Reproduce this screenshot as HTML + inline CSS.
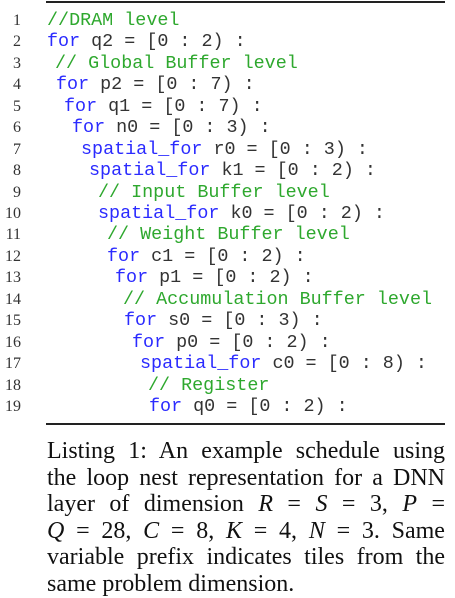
<!DOCTYPE html>
<html><head><meta charset="utf-8"><style>
html,body{margin:0;padding:0;background:#fff;width:455px;height:598px;overflow:hidden;position:relative}
.r{position:absolute;left:46px;width:399px;height:2px;background:#222}
.ln{position:absolute;left:0;width:21px;text-align:right;font-family:"Liberation Serif",serif;font-size:16px;color:#333;line-height:20px}
.c{position:absolute;font-family:"Liberation Mono",monospace;font-size:18.4px;color:#333;line-height:20px;white-space:pre}
.k{color:#2b2bff}.g{color:#2ea82e}
.cap{position:absolute;left:47px;top:438px;width:398px;font-family:"Liberation Serif",serif;font-size:24px;line-height:26.6px;color:#111}
.cap div{text-align:justify;text-align-last:justify;white-space:nowrap}
.cap div.last{text-align-last:left}
.cap i{font-style:italic}
#code{position:absolute;left:0;top:2px;width:455px;height:420px}
</style></head><body>
<div class="r" style="top:1px"></div>
<div class="r" style="top:423px"></div>
<div id="code">
<div class="ln" style="top:9px">1</div><div class="c" style="top:9px;left:47px"><span class="g">//DRAM level</span></div>
<div class="ln" style="top:30.4px">2</div><div class="c" style="top:30.4px;left:47px"><span class="k">for</span> q2 = [0 : 2) :</div>
<div class="ln" style="top:51.9px">3</div><div class="c" style="top:51.9px;left:55px"><span class="g">// Global Buffer level</span></div>
<div class="ln" style="top:73.3px">4</div><div class="c" style="top:73.3px;left:56px"><span class="k">for</span> p2 = [0 : 7) :</div>
<div class="ln" style="top:94.8px">5</div><div class="c" style="top:94.8px;left:64px"><span class="k">for</span> q1 = [0 : 7) :</div>
<div class="ln" style="top:116.2px">6</div><div class="c" style="top:116.2px;left:72px"><span class="k">for</span> n0 = [0 : 3) :</div>
<div class="ln" style="top:137.6px">7</div><div class="c" style="top:137.6px;left:81px"><span class="k">spatial_for</span> r0 = [0 : 3) :</div>
<div class="ln" style="top:159.1px">8</div><div class="c" style="top:159.1px;left:89px"><span class="k">spatial_for</span> k1 = [0 : 2) :</div>
<div class="ln" style="top:180.5px">9</div><div class="c" style="top:180.5px;left:98px"><span class="g">// Input Buffer level</span></div>
<div class="ln" style="top:202px">10</div><div class="c" style="top:202px;left:98px"><span class="k">spatial_for</span> k0 = [0 : 2) :</div>
<div class="ln" style="top:223.4px">11</div><div class="c" style="top:223.4px;left:107px"><span class="g">// Weight Buffer level</span></div>
<div class="ln" style="top:244.8px">12</div><div class="c" style="top:244.8px;left:107px"><span class="k">for</span> c1 = [0 : 2) :</div>
<div class="ln" style="top:266.3px">13</div><div class="c" style="top:266.3px;left:115px"><span class="k">for</span> p1 = [0 : 2) :</div>
<div class="ln" style="top:287.7px">14</div><div class="c" style="top:287.7px;left:123px"><span class="g">// Accumulation Buffer level</span></div>
<div class="ln" style="top:309.2px">15</div><div class="c" style="top:309.2px;left:124px"><span class="k">for</span> s0 = [0 : 3) :</div>
<div class="ln" style="top:330.6px">16</div><div class="c" style="top:330.6px;left:132px"><span class="k">for</span> p0 = [0 : 2) :</div>
<div class="ln" style="top:352px">17</div><div class="c" style="top:352px;left:140px"><span class="k">spatial_for</span> c0 = [0 : 8) :</div>
<div class="ln" style="top:373.5px">18</div><div class="c" style="top:373.5px;left:148px"><span class="g">// Register</span></div>
<div class="ln" style="top:394.9px">19</div><div class="c" style="top:394.9px;left:149px"><span class="k">for</span> q0 = [0 : 2) :</div>
</div>
<div class="cap">
<div>Listing 1: An example schedule using</div>
<div>the loop nest representation for a DNN</div>
<div>layer of dimension <i>R</i> = <i>S</i> = 3, <i>P</i> =</div>
<div><i>Q</i> = 28, <i>C</i> = 8, <i>K</i> = 4, <i>N</i> = 3. Same</div>
<div>variable prefix indicates tiles from the</div>
<div class="last">same problem dimension.</div>
</div>
</body></html>
